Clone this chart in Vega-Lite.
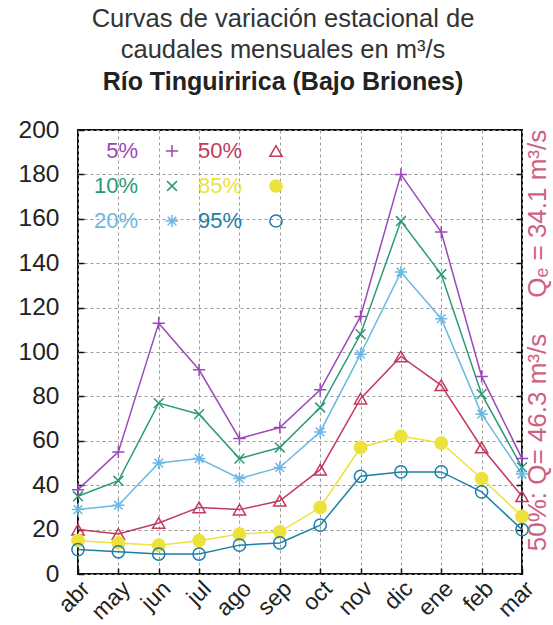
{
  "$schema": "https://vega.github.io/schema/vega-lite/v6.json",
  "autosize": "none",
  "width": 444,
  "height": 444,
  "padding": {"left": 78, "top": 130, "right": 31, "bottom": 51},
  "background": "white",
  "title": {
    "text": ["Curvas de variación estacional de", "caudales mensuales en m³/s"],
    "subtitle": "Río Tinguiririca (Bajo Briones)",
    "fontSize": 25.5,
    "fontWeight": "normal",
    "lineHeight": 31,
    "color": "#333333",
    "subtitleFontSize": 25,
    "subtitleFontWeight": "bold",
    "subtitleColor": "#222222",
    "subtitlePadding": 7,
    "anchor": "middle",
    "dx": -17,
    "offset": 22,
    "font": "Liberation Sans",
    "subtitleFont": "Liberation Sans"
  },
  "data": {
    "values": [
      {"mes": "abr", "serie": "5%", "q": 38}, {"mes": "may", "serie": "5%", "q": 55}, {"mes": "jun", "serie": "5%", "q": 113}, {"mes": "jul", "serie": "5%", "q": 92}, {"mes": "ago", "serie": "5%", "q": 61}, {"mes": "sep", "serie": "5%", "q": 66}, {"mes": "oct", "serie": "5%", "q": 83}, {"mes": "nov", "serie": "5%", "q": 116}, {"mes": "dic", "serie": "5%", "q": 180}, {"mes": "ene", "serie": "5%", "q": 154}, {"mes": "feb", "serie": "5%", "q": 89}, {"mes": "mar", "serie": "5%", "q": 52},
      {"mes": "abr", "serie": "10%", "q": 35}, {"mes": "may", "serie": "10%", "q": 42}, {"mes": "jun", "serie": "10%", "q": 77}, {"mes": "jul", "serie": "10%", "q": 72}, {"mes": "ago", "serie": "10%", "q": 52}, {"mes": "sep", "serie": "10%", "q": 57}, {"mes": "oct", "serie": "10%", "q": 75}, {"mes": "nov", "serie": "10%", "q": 108}, {"mes": "dic", "serie": "10%", "q": 159}, {"mes": "ene", "serie": "10%", "q": 135}, {"mes": "feb", "serie": "10%", "q": 81}, {"mes": "mar", "serie": "10%", "q": 48},
      {"mes": "abr", "serie": "20%", "q": 29}, {"mes": "may", "serie": "20%", "q": 31}, {"mes": "jun", "serie": "20%", "q": 50}, {"mes": "jul", "serie": "20%", "q": 52}, {"mes": "ago", "serie": "20%", "q": 43}, {"mes": "sep", "serie": "20%", "q": 48}, {"mes": "oct", "serie": "20%", "q": 64}, {"mes": "nov", "serie": "20%", "q": 99}, {"mes": "dic", "serie": "20%", "q": 136}, {"mes": "ene", "serie": "20%", "q": 115}, {"mes": "feb", "serie": "20%", "q": 72}, {"mes": "mar", "serie": "20%", "q": 45},
      {"mes": "abr", "serie": "50%", "q": 20}, {"mes": "may", "serie": "50%", "q": 18}, {"mes": "jun", "serie": "50%", "q": 23}, {"mes": "jul", "serie": "50%", "q": 30}, {"mes": "ago", "serie": "50%", "q": 29}, {"mes": "sep", "serie": "50%", "q": 33}, {"mes": "oct", "serie": "50%", "q": 47}, {"mes": "nov", "serie": "50%", "q": 79}, {"mes": "dic", "serie": "50%", "q": 98}, {"mes": "ene", "serie": "50%", "q": 85}, {"mes": "feb", "serie": "50%", "q": 57}, {"mes": "mar", "serie": "50%", "q": 35},
      {"mes": "abr", "serie": "85%", "q": 15}, {"mes": "may", "serie": "85%", "q": 14}, {"mes": "jun", "serie": "85%", "q": 13}, {"mes": "jul", "serie": "85%", "q": 15}, {"mes": "ago", "serie": "85%", "q": 18}, {"mes": "sep", "serie": "85%", "q": 19}, {"mes": "oct", "serie": "85%", "q": 30}, {"mes": "nov", "serie": "85%", "q": 57}, {"mes": "dic", "serie": "85%", "q": 62}, {"mes": "ene", "serie": "85%", "q": 59}, {"mes": "feb", "serie": "85%", "q": 43}, {"mes": "mar", "serie": "85%", "q": 26},
      {"mes": "abr", "serie": "95%", "q": 11}, {"mes": "may", "serie": "95%", "q": 10}, {"mes": "jun", "serie": "95%", "q": 9}, {"mes": "jul", "serie": "95%", "q": 9}, {"mes": "ago", "serie": "95%", "q": 13}, {"mes": "sep", "serie": "95%", "q": 14}, {"mes": "oct", "serie": "95%", "q": 22}, {"mes": "nov", "serie": "95%", "q": 44}, {"mes": "dic", "serie": "95%", "q": 46}, {"mes": "ene", "serie": "95%", "q": 46}, {"mes": "feb", "serie": "95%", "q": 37}, {"mes": "mar", "serie": "95%", "q": 20}
    ]
  },
  "encoding": {
    "x": {
      "field": "mes",
      "type": "ordinal",
      "sort": ["abr", "may", "jun", "jul", "ago", "sep", "oct", "nov", "dic", "ene", "feb", "mar"],
      "scale": {"type": "point", "padding": 0},
      "axis": {
        "title": null,
        "labelAngle": -45,
        "labelAlign": "right",
        "labelBaseline": "top",
        "labelPadding": 9,
        "ticks": true,
        "tickSize": -6,
        "tickColor": "#111111",
        "tickWidth": 1.5,
        "domain": false,
        "grid": true,
        "gridDash": [3, 3],
        "gridColor": "#9a9a9a",
        "labelFontSize": 23,
        "labelColor": "#222222",
        "labelFont": "Liberation Sans"
      }
    },
    "color": {
      "field": "serie",
      "type": "nominal",
      "scale": {
        "domain": ["5%", "10%", "20%", "50%", "85%", "95%"],
        "range": ["#9a48b8", "#2a9a78", "#6cb8e2", "#c23a5e", "#ece23c", "#1c7fa6"]
      },
      "legend": {
        "title": null,
        "orient": "none",
        "legendX": 0,
        "legendY": 10,
        "columns": 2,
        "gridAlign": "all",
        "rowPadding": 13,
        "columnPadding": -6,
        "labelFontSize": 22,
        "labelFont": "Liberation Sans",
        "symbolSize": 150,
        "symbolStrokeWidth": 1.5,
        "encode": {
          "labels": {"update": {"fill": {"scale": "color", "field": "value"}, "x": {"value": 60}, "align": {"value": "right"}}},
          "symbols": {"update": {"x": {"value": 94}, "fill": {"signal": "datum.value === '85%' ? '#ece23c' : 'transparent'"}}}
        }
      }
    }
  },
  "layer": [
    {
      "mark": {"type": "line", "strokeWidth": 1.5},
      "encoding": {
        "y": {
          "field": "q",
          "type": "quantitative",
          "scale": {"domain": [0, 200], "nice": false},
          "axis": {
            "title": null,
            "values": [0, 20, 40, 60, 80, 100, 120, 140, 160, 180, 200],
            "ticks": true,
            "tickSize": -6,
            "tickColor": "#111111",
            "tickWidth": 1.5,
            "domain": false,
            "grid": true,
            "gridDash": [3, 3],
            "gridColor": "#9a9a9a",
            "labelPadding": 25,
            "labelFontSize": 24.5,
            "labelColor": "#222222",
            "labelFont": "Liberation Sans"
          }
        }
      }
    },
    {
      "mark": {"type": "point", "filled": false, "strokeWidth": 1.5, "size": 150, "opacity": 1},
      "encoding": {
        "y": {
          "field": "q",
          "type": "quantitative",
          "axis": {
            "orient": "right",
            "title": "50%: Q= 46.3 m³/s\u00a0\u00a0\u00a0\u00a0 Qₑ = 34.1 m³/s",
            "titleAngle": 270,
            "titleBaseline": "top",
            "titleAlign": "center",
            "titleY": 210,
            "titleX": 2,
            "titleFontSize": 26,
            "titleFontWeight": "normal",
            "titleColor": "#cf5f84",
            "titleFont": "Liberation Sans",
            "values": [20, 40, 60, 80, 100, 120, 140, 160, 180],
            "labels": false,
            "ticks": true,
            "tickSize": -6,
            "tickColor": "#111111",
            "tickWidth": 1.5,
            "domain": false,
            "grid": false
          }
        },
        "shape": {
          "field": "serie",
          "type": "nominal",
          "scale": {
            "domain": ["5%", "10%", "20%", "50%", "85%", "95%"],
            "range": ["M-1,0L1,0M0,-1L0,1", "M-0.8,-0.8L0.8,0.8M-0.8,0.8L0.8,-0.8", "M-1,0L1,0M0,-1L0,1M-0.7,-0.7L0.7,0.7M-0.7,0.7L0.7,-0.7", "triangle-up", "circle", "circle"]
          },
          "legend": {
            "title": null,
            "orient": "none",
            "legendX": 0,
            "legendY": 10,
            "columns": 2,
            "gridAlign": "all",
            "rowPadding": 13,
            "columnPadding": -6,
            "labelFontSize": 22,
            "labelFont": "Liberation Sans",
            "symbolSize": 150,
            "symbolStrokeWidth": 1.5,
            "encode": {
              "labels": {"update": {"fill": {"scale": "color", "field": "value"}, "x": {"value": 60}, "align": {"value": "right"}}},
              "symbols": {"update": {"x": {"value": 94}, "fill": {"signal": "datum.value === '85%' ? '#ece23c' : 'transparent'"}}}
            }
          }
        },
        "fill": {
          "condition": {"test": "datum.serie === '85%'", "value": "#ece23c"},
          "value": "transparent"
        }
      }
    }
  ],
  "resolve": {"axis": {"y": "independent"}},
  "config": {
    "view": {"stroke": "#111111", "strokeWidth": 2},
    "font": "Liberation Sans"
  }
}
